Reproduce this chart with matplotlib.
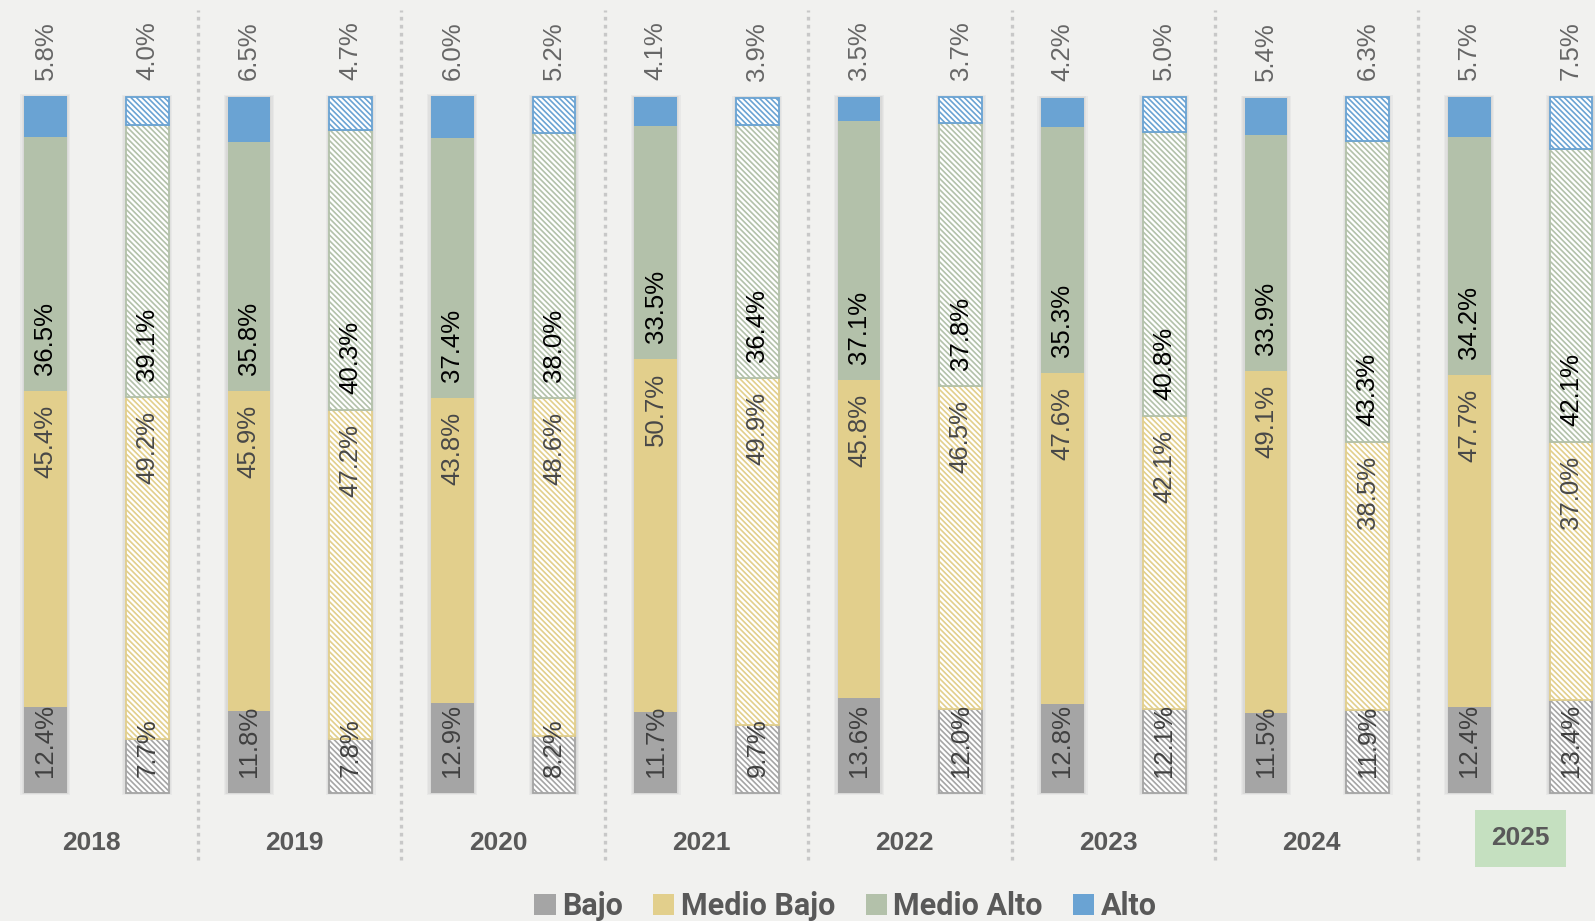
import matplotlib; matplotlib.use("Agg")
import matplotlib.pyplot as plt
from matplotlib.patches import Patch, Rectangle
import numpy as np

years = ["2018", "2019", "2020", "2021", "2022", "2023", "2024", "2025"]
series = ["Bajo", "Medio Bajo", "Medio Alto", "Alto"]

# first bar of each year (solid)
bajo_a = [12.4, 11.8, 12.9, 11.7, 13.6, 12.8, 11.5, 12.4]
mbajo_a = [45.4, 45.9, 43.8, 50.7, 45.8, 47.6, 49.1, 47.7]
malto_a = [36.5, 35.8, 37.4, 33.5, 37.1, 35.3, 33.9, 34.2]
alto_a = [5.8, 6.5, 6.0, 4.1, 3.5, 4.2, 5.4, 5.7]

# second bar of each year (hatched)
bajo_b = [7.7, 7.8, 8.2, 9.7, 12.0, 12.1, 11.9, 13.4]
mbajo_b = [49.2, 47.2, 48.6, 49.9, 46.5, 42.1, 38.5, 37.0]
malto_b = [39.1, 40.3, 38.0, 36.4, 37.8, 40.8, 43.3, 42.1]
alto_b = [4.0, 4.7, 5.2, 3.9, 3.7, 5.0, 6.3, 7.5]

COLORS = ["#a5a5a5", "#e2cf8c", "#b3c1aa", "#6aa3d3"]
TXT = ["#404040", "#484848", "#000000", "#666666"]
BG = "#f1f1ef"

plt.rcParams["hatch.linewidth"] = 1.2
fig = plt.figure(figsize=(15.95, 9.21), dpi=100, facecolor=BG)
ax = fig.add_axes([0, 0, 1, 1], facecolor=BG)
ax.set_xlim(-0.447, 15.236)
ax.set_ylim(-18.39, 113.94)
ax.axis("off")

W = 0.42
FONT = "Liberation Sans"
HATCH = "\\" * 6

def draw_bar(x, vals, hatched):
    total = sum(vals)
    # soft shadow behind the stack
    for k in range(1, 4):
        d = 0.012 * k
        ax.add_patch(Rectangle((x - W / 2 - d, -d * 8), W + 2 * d, total + d * 16,
                               color="#7f7f7f", alpha=0.07, lw=0, zorder=1))
    bottom = 0
    for j, v in enumerate(vals):
        if hatched:
            ax.bar(x, v, W, bottom=bottom, facecolor="white", edgecolor=COLORS[j],
                   hatch=HATCH, lw=1.3, zorder=2)
        else:
            ax.bar(x, v, W, bottom=bottom, color=COLORS[j], lw=0, zorder=2)
        lab = f"{v:.1f}%"
        kw = dict(rotation=90, ha="center", fontsize=18.5, family=FONT, color=TXT[j], zorder=5)
        if j == 0 or j == 2:
            ax.text(x, bottom + 2.3, lab, va="bottom", **kw)
        elif j == 1:
            ax.text(x, bottom + v - 2.0, lab, va="top", **kw)
        else:
            ax.text(x, bottom + v + 2.4, lab, va="bottom", **kw)
        bottom += v

for i, yr in enumerate(years):
    xa, xb = 2 * i, 2 * i + 1
    draw_bar(xa, [bajo_a[i], mbajo_a[i], malto_a[i], alto_a[i]], False)
    draw_bar(xb, [bajo_b[i], mbajo_b[i], malto_b[i], alto_b[i]], True)
    box = None
    ty, tx = -7.2, 2 * i + 0.45
    if yr == "2025":
        box = dict(boxstyle="square,pad=0.62", facecolor="#c5e0c0", edgecolor="none")
        ty, tx = -6.5, 2 * i + 0.5
    ax.text(tx, ty, yr, ha="center", va="center", fontsize=19, fontweight="bold",
            family=FONT, color="#595959", bbox=box)
    if i > 0:
        ax.vlines(2 * i - 0.5, -9.6, 112.5, colors="#c8c8c8", lw=2.4,
                  linestyles=(0, (1.1, 1.3)), zorder=0)

handles = [Patch(facecolor=c, edgecolor="none") for c in COLORS]
fig.legend(handles, series, loc="lower center", bbox_to_anchor=(0.53, -0.03), ncol=4,
           frameon=False, handlelength=0.7, handleheight=0.7, handletextpad=0.2,
           columnspacing=1.0, prop=dict(family="Roboto", weight="bold", size=22),
           labelcolor="#595959")

fig.savefig("out.png", dpi=100, facecolor=BG)
